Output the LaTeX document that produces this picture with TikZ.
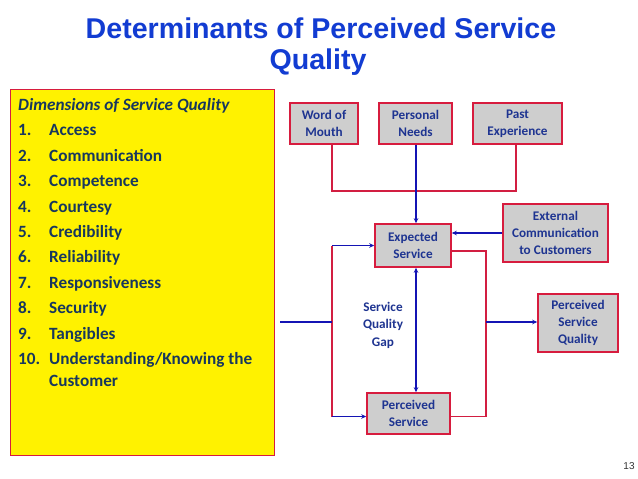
\documentclass[tikz,border=0pt]{standalone}
\usepackage{fontspec}
\setmainfont{Carlito}
\newfontfamily\titlefont{Liberation Sans}
\usetikzlibrary{arrows.meta}
\definecolor{titleblue}{RGB}{18,60,210}
\definecolor{listtext}{RGB}{23,55,94}
\definecolor{boxred}{RGB}{215,28,62}
\definecolor{boxgray}{RGB}{206,206,206}
\definecolor{boxtext}{RGB}{30,52,145}
\definecolor{lineblue}{RGB}{20,20,180}
\definecolor{linered}{RGB}{210,30,65}
\tikzset{
  titletxt/.style={anchor=base, inner sep=0, text=titleblue, font=\titlefont\fontsize{28.6}{31}\selectfont\bfseries},
  listtxt/.style={anchor=base west, inner sep=0, text=listtext, font=\fontsize{17.2}{20}\selectfont\bfseries},
  gbox/.style={draw=boxred, line width=1.6pt, fill=boxgray, text=boxtext, align=center, inner sep=0,
    font=\fontsize{13.2}{16.7}\selectfont\bfseries},
  bline/.style={draw=lineblue, line width=1.5pt},
  rline/.style={draw=linered, line width=1.5pt},
  barrow/.style={bline, -{Stealth[length=5pt,width=4.5pt]}},
}
\begin{document}
\begin{tikzpicture}[x=1pt,y=-1pt]
\useasboundingbox[fill=white] (0,0) rectangle (638,479);
% title
\node[titletxt] (t1) at (321,38.5) {Determinants of Perceived Service};
\node[titletxt] (t2) at (318,69.5) {Quality};
% yellow list box
\node[draw=boxred, fill=yellow, line width=1pt, minimum width=264pt, minimum height=366pt, inner sep=0] (yb) at (142,272) {};
\node[listtxt] (h) at (18,110.6) {\itshape Dimensions of Service Quality};
\node[listtxt] (l1) at (18,135.8) {\makebox[31pt][l]{1.}Access};
\node[listtxt] (l2) at (18,161.2) {\makebox[31pt][l]{2.}Communication};
\node[listtxt] (l3) at (18,186.6) {\makebox[31pt][l]{3.}Competence};
\node[listtxt] (l4) at (18,212.0) {\makebox[31pt][l]{4.}Courtesy};
\node[listtxt] (l5) at (18,237.4) {\makebox[31pt][l]{5.}Credibility};
\node[listtxt] (l6) at (18,262.8) {\makebox[31pt][l]{6.}Reliability};
\node[listtxt] (l7) at (18,288.2) {\makebox[31pt][l]{7.}Responsiveness};
\node[listtxt] (l8) at (18,313.6) {\makebox[31pt][l]{8.}Security};
\node[listtxt] (l9) at (18,339.0) {\makebox[31pt][l]{9.}Tangibles};
\node[listtxt] (l10) at (18,364.4) {\makebox[31pt][l]{10.}Understanding/Knowing the};
\node[listtxt] (l11) at (49,386.6) {Customer};
% boxes
\node[gbox, minimum width=68pt, minimum height=41pt] (wom) at (324,123.5) {Word of\\Mouth};
\node[gbox, minimum width=73pt, minimum height=41pt] (pn) at (415.5,123.5) {Personal\\Needs};
\node[gbox, minimum width=89pt, minimum height=41pt] (pe) at (517.5,123.5) {Past\\Experience};
\node[gbox, minimum width=76pt, minimum height=43pt] (es) at (413,245.5) {Expected\\Service};
\node[gbox, minimum width=105pt, minimum height=58pt] (ext) at (555.5,233) {External\\Communication\\to Customers};
\node[gbox, minimum width=80pt, minimum height=58pt] (psq) at (578,323) {Perceived\\Service\\Quality};
\node[gbox, minimum width=83pt, minimum height=41pt] (ps) at (408.5,413.5) {Perceived\\Service};
\node[text=boxtext, align=center, inner sep=0, font=\fontsize{13.2}{17.5}\selectfont\bfseries] (gap) at (383,325) {Service\\Quality\\Gap};
% coordinates
\coordinate (J) at (332,191);
\coordinate (P) at (516,0);
\coordinate (L) at (332,322);
\coordinate (in) at (280,322);
\coordinate (R) at (486,322);
\coordinate (G) at (416,0);
\coordinate (esr) at ([yshift=-5.5pt]es.east);
\coordinate (psw) at ([yshift=-3pt]ps.west);
\coordinate (pse) at ([yshift=-3pt]ps.east);
% top connectors
\draw[rline] (wom.south -| J) -- (J) -- (J -| P) -- (pe.south -| P);
\draw[barrow] (pn.south -| G) -- (G |- es.north);
\draw[barrow] (ext.west) -- (ext.west -| es.east);
% left loop
\draw[rline] (L |- es.west) -- (L |- psw);
\draw[barrow] (L |- es.west) -- (es.west);
\draw[barrow] (L |- psw) -- (psw);
\draw[bline] (in) -- (L);
% right loop
\draw[rline] (esr) -| (R) |- (pse);
\draw[barrow] (R) -- (R -| psq.west);
% gap arrow
\draw[bline, {Stealth[length=5pt,width=4.5pt]}-{Stealth[length=5pt,width=4.5pt]}] (G |- es.south) -- (G |- ps.north);
% page number
\node[inner sep=0, font=\titlefont\fontsize{10}{12}\selectfont, text=black!80] (pg) at (629,466) {13};
\end{tikzpicture}
\end{document}
